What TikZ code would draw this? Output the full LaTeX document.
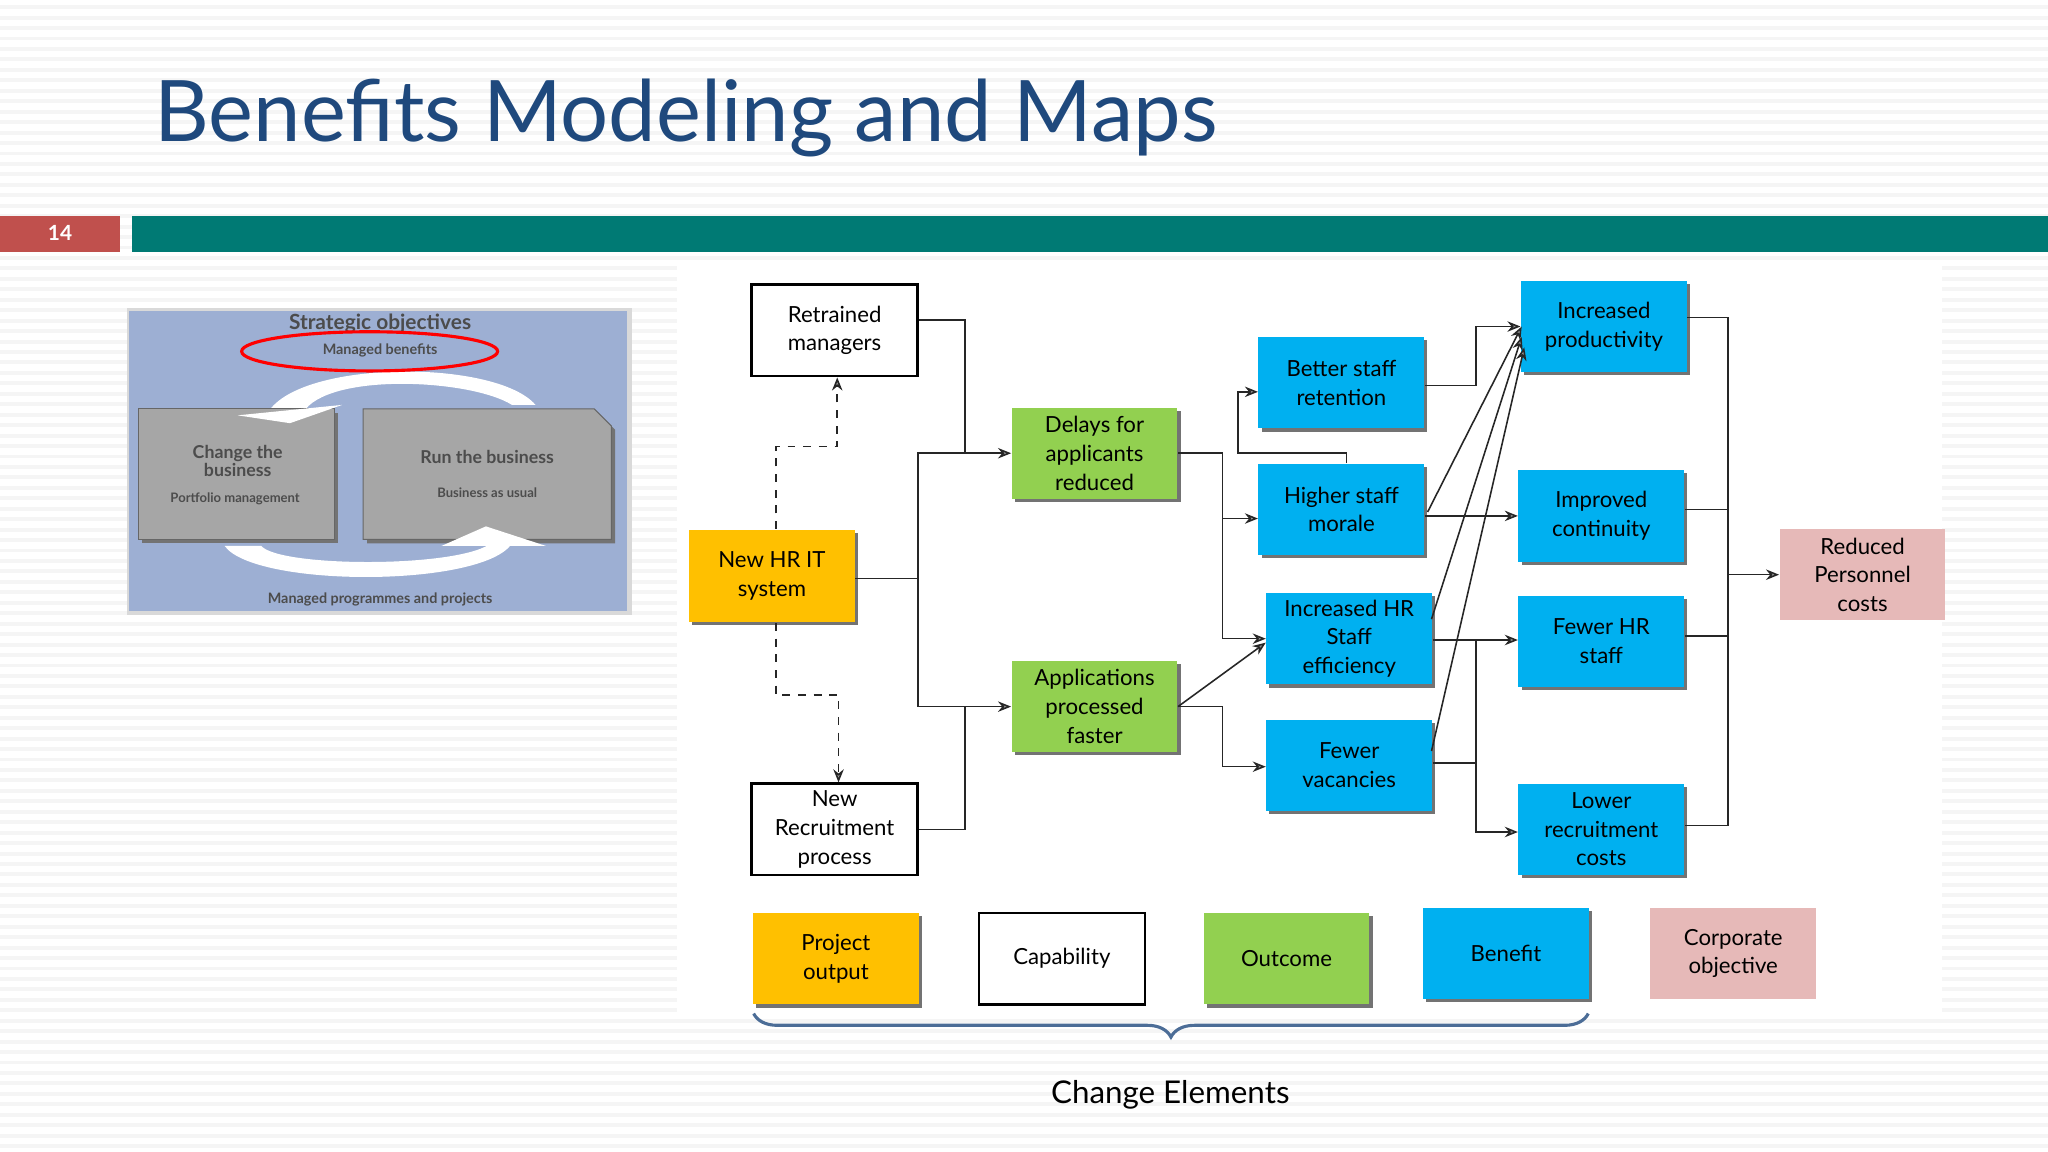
\documentclass[tikz,border=0pt]{standalone}
\usepackage{fontspec}
\setmainfont{Lato}
\usetikzlibrary{arrows.meta,decorations.pathreplacing,shadows}
\definecolor{ttl}{RGB}{31,73,125}
\definecolor{teal}{RGB}{0,122,116}
\definecolor{redb}{RGB}{192,80,77}
\definecolor{yel}{RGB}{255,192,0}
\definecolor{grn}{RGB}{146,208,80}
\definecolor{blu}{RGB}{0,176,240}
\definecolor{pnk}{RGB}{230,185,184}
\definecolor{lbg}{RGB}{157,175,211}
\definecolor{gbox}{RGB}{166,166,166}
\begin{document}
\begin{tikzpicture}[x=0.5pt,y=-0.5pt,
  box/.style={draw=none,minimum width=63.5pt,minimum height=35pt,align=center,
    font=\fontsize{8.5}{11}\selectfont,inner sep=1pt,
    drop shadow={shadow xshift=1.2pt,shadow yshift=-1.2pt,fill=black!55,opacity=1}},
  capb/.style={draw=black,line width=1pt,minimum width=63.5pt,minimum height=35pt,align=center,
    font=\fontsize{8.5}{11}\selectfont,inner sep=1pt,fill=white},
  po/.style={box,fill=yel},
  oc/.style={box,fill=grn},
  be/.style={box,fill=blu},
  co/.style={draw=none,minimum width=63.5pt,minimum height=35pt,align=center,
    font=\fontsize{8.5}{11}\selectfont,inner sep=1pt,fill=pnk},
  ln/.style={draw=black!85,line width=0.6pt},
  ar/.style={ln,-{Stealth[length=5pt,width=4pt,open,fill=black!40]}},
  da/.style={ar,dashed},
  lt/.style={text=black!70,font=\bfseries\fontsize{#1}{#1}\selectfont,align=center}]
\useasboundingbox (0,0) rectangle (1568,882);
\fill[white] (0,0) rectangle (1568,882);
\foreach \y in {4,12,...,882} \fill[black!4] (0,\y) rectangle (1568,\y+3);
\fill[white] (518,200) rectangle (1487,775);
\node[anchor=base west,text=ttl,font=\fontsize{32.5}{36}\selectfont,inner sep=0] (title) at (118,108) {Benefits Modeling and Maps};
\fill[redb] (0,165) rectangle (92,193);
\node[text=white,font=\bfseries\fontsize{8}{10}\selectfont] (pg) at (46,178) {14};
\fill[teal] (101,165) rectangle (1568,193);
% left picture
\fill[black!15] (97,236) rectangle (484,471);
\fill[lbg] (99,238) rectangle (480,468);
\node[lt=8] (so) at (291,248) {Strategic objectives};
\fill[white] (205,316) .. controls (230,275) and (380,275) .. (410,310)
  -- (392,310) .. controls (360,290) and (250,285) .. (232,316) -- cycle;
\fill[white] (172,418) .. controls (195,450) and (370,450) .. (392,416)
  -- (378,414) .. controls (360,435) and (215,435) .. (200,418) -- cycle;
\draw[red,line width=1.2pt] (283,269) ellipse (98 and 15);
\node[lt=5.5] (mb) at (291,268) {Managed benefits};
\fill[black!55] (109,316) rectangle (259,416);
\fill[gbox,draw=black!60] (106,313) rectangle (256,413);
\fill[black!55] (281,316) -- (458,316) -- (471,329) -- (471,416) -- (281,416) -- cycle;
\fill[gbox,draw=black!60] (278,313) -- (455,313) -- (468,326) -- (468,413) -- (278,413) -- cycle;
\fill[white] (182,318) -- (262,310) -- (222,324) -- cycle;
\fill[white] (338,418) -- (372,403) -- (418,418) -- cycle;
\node[lt=6.8] (cb) at (182,353) {Change the\\business};
\node[lt=5] (pm) at (180,382) {Portfolio management};
\node[lt=6.8] (rb) at (373,350) {Run the business};
\node[lt=5] (bu) at (373,377) {Business as usual};
\node[lt=5.5] (mp) at (291,459) {Managed programmes and projects};
% main nodes
\node[capb] (rm) at (639,253) {Retrained\\managers};
\node[po] (hr) at (591,441) {New HR IT\\system};
\node[capb] (nr) at (639,635) {New\\Recruitment\\process};
\node[oc] (dl) at (838,347) {Delays for\\applicants\\reduced};
\node[oc] (ap) at (838,541) {Applications\\processed\\faster};
\node[be] (bs) at (1027,293) {Better staff\\retention};
\node[be] (hm) at (1027,390) {Higher staff\\morale};
\node[be] (he) at (1033,489) {Increased HR\\Staff\\efficiency};
\node[be] (fv) at (1033,586) {Fewer\\vacancies};
\node[be] (ip) at (1228,250) {Increased\\productivity};
\node[be] (ic) at (1226,395) {Improved\\continuity};
\node[be] (fh) at (1226,491) {Fewer HR\\staff};
\node[be] (lr) at (1226,635) {Lower\\recruitment\\costs};
\node[co] (rp) at (1426,440) {Reduced\\Personnel\\costs};
% legend
\node[po] (l1) at (640,734) {Project\\output};
\node[capb] (l2) at (813,734) {Capability};
\node[oc] (l3) at (985,734) {Outcome};
\node[be] (l4) at (1153,730) {Benefit};
\node[co] (l5) at (1327,730) {Corporate\\objective};
\draw[draw=ttl!80!white,line width=1.2pt,decorate,decoration={brace,mirror,amplitude=9pt}] (577,776) -- (1216,776);
\node[font=\fontsize{12}{14}\selectfont] (ce) at (896,838) {Change Elements};
% connectors
\draw[ln] (rm.east|-0,245) -| (739,347);
\draw[ln] (nr.east|-0,635) -| (739,541);
\draw[ln] (hr.east|-0,443) -- (703,443);
\draw[ar] (703,538) |- (dl.west);
\draw[ar] (703,443) |- (ap.west);
\draw[da] (594,405) |- (641,342) -- (rm.south-|641,0);
\draw[da] (594,477) |- (642,532) -- (nr.north-|642,0);
\draw[ar] (dl.east) -| (936,397) -- (hm.west|-0,397);
\draw[ar] (936,397) |- (he.west);
\draw[ar] (ap.east) -| (936,587) -- (fv.west|-0,587);
\draw[ar] (ap.east) -- (he.west|-0,492);
\draw[ar] (hm.north-|1031,0) |- (948,347) |- (bs.west|-0,300);
\draw[ar] (bs.east|-0,295) -| (1130,250) -- (ip.west);
\draw[ar] (hm.east|-0,395) -- (ic.west);
\draw[ar] (he.east|-0,490) -- (fh.west|-0,490);
\draw[ln] (fv.east|-0,584) -| (1130,490);
\draw[ar] (1130,584) |- (lr.west|-0,637);
\draw[ar] (1093,392) -- (1165,250);
\draw[ar] (1096,474) -- (1165,258);
\draw[ar] (1096,575) -- (1167,266);
\draw[ln] (ip.east|-0,243) -| (1323,632) -- (lr.east|-0,632);
\draw[ln] (ic.east|-0,390) -- (1323,390);
\draw[ln] (fh.east|-0,487) -- (1323,487);
\draw[ar] (1323,440) -- (rp.west);
\end{tikzpicture}
\end{document}
